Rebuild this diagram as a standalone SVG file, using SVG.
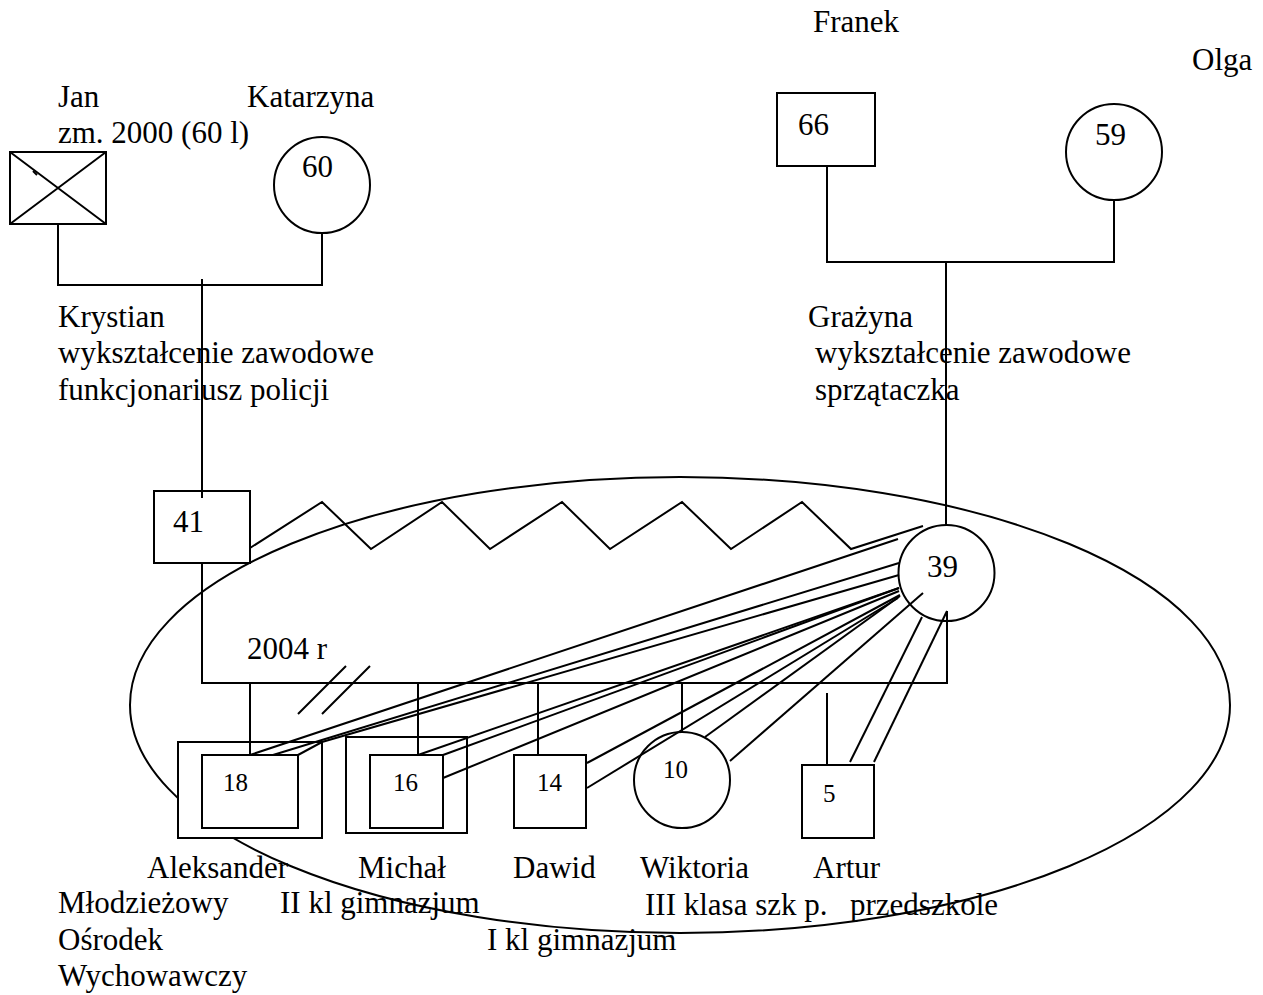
<svg xmlns="http://www.w3.org/2000/svg" width="1263" height="995" viewBox="0 0 1263 995">
<style>
  .s { fill: #fff; stroke: #000; stroke-width: 2; }
  .o { fill: none; stroke: #000; stroke-width: 2; }
  .c { fill: none; stroke: #000; stroke-width: 2; stroke-linejoin: miter; }
  text { font-family: "Liberation Serif", "Times New Roman", serif; font-size: 31px; fill: #000; }
  .n { font-size: 31px; }
  .k { font-size: 25px; }
</style>
<rect width="1263" height="995" fill="#fff"/>
<g id="household">
  <ellipse class="o" cx="680" cy="705" rx="550" ry="228"/>
</g>
<g id="jan">
  <rect class="s" x="10" y="152" width="96" height="72"/>
  <path class="o" d="M10 152 L106 224 M106 152 L10 224"/>
  <path class="o" d="M33 171 L37 175" stroke-width="1.5"/>
  <text x="58" y="107">Jan</text>
  <text x="58" y="143">zm. 2000 (60 l)</text>
</g>
<g id="katarzyna">
  <circle class="s" cx="322" cy="185" r="48"/>
  <text class="n" x="302" y="177">60</text>
  <text x="247" y="107">Katarzyna</text>
</g>
<g id="franek">
  <rect class="s" x="777" y="93" width="98" height="73"/>
  <text class="n" x="798" y="135">66</text>
  <text x="813" y="32">Franek</text>
</g>
<g id="olga">
  <circle class="s" cx="1114" cy="152" r="48"/>
  <text class="n" x="1095" y="145">59</text>
  <text x="1192" y="70">Olga</text>
</g>
<g id="krystian">
  <rect class="s" x="154" y="491" width="96" height="72"/>
  <text class="n" x="173" y="532">41</text>
  <text x="58" y="327">Krystian</text>
  <text x="58" y="363">wykształcenie zawodowe</text>
  <text x="58" y="400">funkcjonariusz policji</text>
</g>
<g id="grazyna">
  <circle class="s" cx="946.5" cy="573" r="48"/>
  <text class="n" x="927" y="577">39</text>
  <text x="808" y="327">Grażyna</text>
  <text x="815" y="363">wykształcenie zawodowe</text>
  <text x="815" y="400">sprzątaczka</text>
</g>
<g id="aleksander">
  <rect class="s" x="178" y="742" width="144" height="96"/>
  <rect class="s" x="202" y="755" width="96" height="73"/>
  <text class="k" x="223" y="791">18</text>
  <text x="147" y="878">Aleksander</text>
  <text x="58" y="913">Młodzieżowy</text>
  <text x="58" y="950">Ośrodek</text>
  <text x="58" y="986">Wychowawczy</text>
</g>
<g id="michal">
  <rect class="s" x="346" y="737" width="121" height="96"/>
  <rect class="s" x="370" y="755" width="73" height="73"/>
  <text class="k" x="393" y="791">16</text>
  <text x="358" y="878">Michał</text>
  <text x="280" y="913">II kl gimnazjum</text>
</g>
<g id="dawid">
  <rect class="s" x="514" y="755" width="72" height="73"/>
  <text class="k" x="537" y="791">14</text>
  <text x="513" y="878">Dawid</text>
  <text x="487" y="950">I kl gimnazjum</text>
</g>
<g id="wiktoria">
  <circle class="s" cx="682" cy="780" r="48"/>
  <text class="k" x="663" y="778">10</text>
  <text x="640" y="878">Wiktoria</text>
  <text x="645" y="915">III klasa szk p.</text>
</g>
<g id="artur">
  <rect class="s" x="802" y="765" width="72" height="73"/>
  <text class="k" x="823" y="802">5</text>
  <text x="813" y="878">Artur</text>
  <text x="850" y="915">przedszkole</text>
</g>
<g id="marriage-year">
  <text x="247" y="659">2004 r</text>
</g>
<g id="connectors">
  <path class="c" d="M58 224 V285 H322 V233"/>
  <path class="c" d="M202 279 V498"/>
  <path class="c" d="M827 166 V262 H1114 V200"/>
  <path class="c" d="M946 262 V525"/>
  <path class="c" d="M202 563 V683 H947 V611"/>
  <path class="c" d="M298 714 L346 666 M322 714 L370 666"/>
  <path class="c" d="M250 548 L322 502 L371 549 L442 502 L490 549 L562 502 L610 549 L682 502 L731 549 L802 502 L851 549 L923 526"/>
  <path class="c" d="M250 683 V755 M418 683 V755 M538 683 V755 M682 683 V732 M827 693 V765"/>
  <path class="c" d="M250 755 L898 539"/>
  <path class="c" d="M273 755 L899 563"/>
  <path class="c" d="M298 755 L322 742 L899 575"/>
  <path class="c" d="M418 755 L899 588"/>
  <path class="c" d="M443 755 L899 588"/>
  <path class="c" d="M443 778 L899 591"/>
  <path class="c" d="M587 763 L900 595"/>
  <path class="c" d="M587 788 L898 598"/>
  <path class="c" d="M705 737 L900 596"/>
  <path class="c" d="M730 761 L923 593"/>
  <path class="c" d="M850 762 L922 617"/>
  <path class="c" d="M874 762 L947 611"/>
</g>
</svg>
